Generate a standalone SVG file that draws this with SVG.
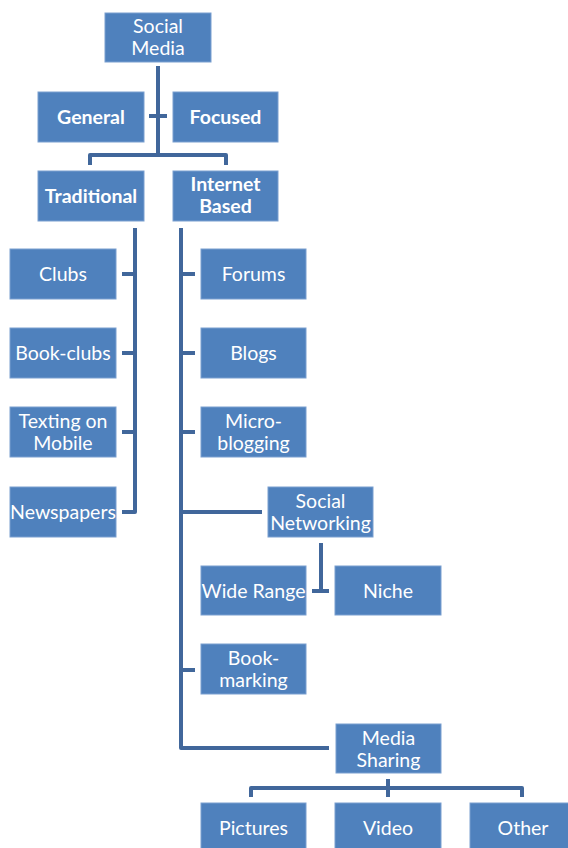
<svg xmlns="http://www.w3.org/2000/svg" width="568" height="848" viewBox="0 0 568 848">
<style>
.box{fill:#4F81BD;stroke:#7A9FD0;stroke-width:1}
.t{font-family:Lato,"Open Sans","DejaVu Sans",sans-serif;font-size:19.5px;fill:#FFFFFF;text-anchor:middle}
.b{font-weight:bold}
.c{fill:none;stroke:#41679B;stroke-width:4;stroke-linejoin:round}
</style>
<rect width="568" height="848" fill="#FFFFFF"/>
<g id="connectors">
<path class="c" d="M158,66 V155 M90,165 V155 H226 V165 M149,116 H167"/>
<path class="c" d="M135,228 V512 H122 M122,274 H135 M122,353 H135 M122,432 H135"/>
<path class="c" d="M181,228 V748 H329 M181,274 H195 M181,353 H195 M181,432 H195 M181,670 H195 M181,512 H262"/>
<path class="c" d="M321,543 V591 M312,591 H329"/>
<path class="c" d="M388,779 V797 M251,797 V788 H522 V797"/>
</g>
<g id="social-media"><rect class="box" x="105" y="13" width="106" height="49"/><text class="t" x="158" y="33">Social</text><text class="t" x="158" y="55">Media</text></g>
<g id="general"><rect class="box" x="38" y="92" width="106" height="50"/><text class="t b" x="91" y="124">General</text></g>
<g id="focused"><rect class="box" x="173" y="92" width="105" height="50"/><text class="t b" x="225.5" y="124">Focused</text></g>
<g id="traditional"><rect class="box" x="38" y="171" width="106" height="50"/><text class="t b" x="91" y="203">Traditional</text></g>
<g id="internet-based"><rect class="box" x="173" y="171" width="105" height="50"/><text class="t b" x="225.5" y="191">Internet</text><text class="t b" x="225.5" y="213">Based</text></g>
<g id="clubs"><rect class="box" x="10" y="249" width="106" height="50"/><text class="t" x="63" y="281">Clubs</text></g>
<g id="book-clubs"><rect class="box" x="10" y="328" width="106" height="50"/><text class="t" x="63" y="360">Book-clubs</text></g>
<g id="texting"><rect class="box" x="10" y="407" width="106" height="50"/><text class="t" x="63" y="428">Texting on</text><text class="t" x="63" y="450">Mobile</text></g>
<g id="newspapers"><rect class="box" x="10" y="487" width="106" height="50"/><text class="t" x="63" y="519">Newspapers</text></g>
<g id="forums"><rect class="box" x="201" y="249" width="105" height="50"/><text class="t" x="253.5" y="281">Forums</text></g>
<g id="blogs"><rect class="box" x="201" y="328" width="105" height="50"/><text class="t" x="253.5" y="360">Blogs</text></g>
<g id="micro-blogging"><rect class="box" x="201" y="407" width="105" height="50"/><text class="t" x="253.5" y="428">Micro-</text><text class="t" x="253.5" y="450">blogging</text></g>
<g id="social-networking"><rect class="box" x="268" y="487" width="105" height="50"/><text class="t" x="320.5" y="508">Social</text><text class="t" x="320.5" y="530">Networking</text></g>
<g id="wide-range"><rect class="box" x="201" y="566" width="105" height="49"/><text class="t" x="253.5" y="598">Wide Range</text></g>
<g id="niche"><rect class="box" x="335" y="566" width="106" height="49"/><text class="t" x="388" y="598">Niche</text></g>
<g id="book-marking"><rect class="box" x="201" y="644" width="105" height="50"/><text class="t" x="253.5" y="665">Book-</text><text class="t" x="253.5" y="687">marking</text></g>
<g id="media-sharing"><rect class="box" x="336" y="724" width="105" height="49"/><text class="t" x="388.5" y="745">Media</text><text class="t" x="388.5" y="767">Sharing</text></g>
<g id="pictures"><rect class="box" x="201" y="803" width="105" height="50"/><text class="t" x="253.5" y="835">Pictures</text></g>
<g id="video"><rect class="box" x="335" y="803" width="106" height="50"/><text class="t" x="388" y="835">Video</text></g>
<g id="other"><rect class="box" x="470" y="803" width="106" height="50"/><text class="t" x="523" y="835">Other</text></g>
</svg>
